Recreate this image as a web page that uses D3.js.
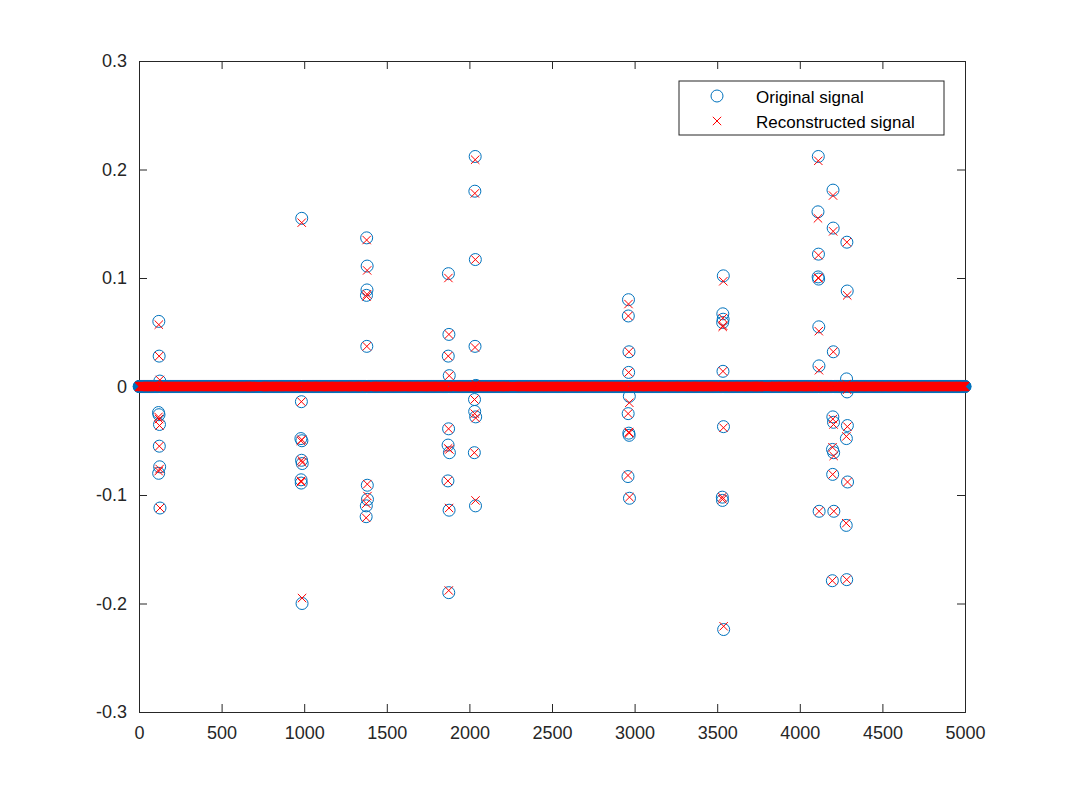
<!DOCTYPE html>
<html><head><meta charset="utf-8">
<script src="https://cdn.jsdelivr.net/npm/d3@7/dist/d3.min.js"></script>
<style>body{margin:0;background:#fff}text{font-family:"Liberation Sans",Arial,sans-serif}</style>
</head><body><svg id="c" width="1067" height="800"></svg>
<script>
const N = 5000;
const xTicks = [0,500,1000,1500,2000,2500,3000,3500,4000,4500,5000];
const yTicks = [-0.3,-0.2,-0.1,0,0.1,0.2,0.3];
// nonzero entries: [index, original, reconstructed]
const spikes = [
 [120,0.060,0.057],[122,0.028,0.028],[126,0.005,0.006],[118,-0.024,-0.028],[121,-0.026,-0.030],[124,-0.035,-0.036],[123,-0.055,-0.055],[125,-0.074,-0.076],[119,-0.080,-0.078],[127,-0.112,-0.112],
 [985,0.155,0.151],[983,-0.014,-0.014],[980,-0.048,-0.050],[986,-0.050,-0.049],[984,-0.068,-0.068],[988,-0.071,-0.070],[981,-0.086,-0.087],[982,-0.089,-0.088],[987,-0.200,-0.195],
 [1378,0.137,0.135],[1381,0.111,0.107],[1380,0.089,0.085],[1377,0.084,0.083],[1379,0.037,0.037],[1382,-0.091,-0.090],[1383,-0.104,-0.101],[1376,-0.110,-0.108],[1375,-0.120,-0.121],
 [1873,0.104,0.100],[1876,0.048,0.048],[1872,0.028,0.028],[1878,0.010,0.010],[1874,-0.039,-0.039],[1871,-0.054,-0.057],[1879,-0.061,-0.058],[1870,-0.087,-0.087],[1877,-0.114,-0.112],[1875,-0.190,-0.188],
 [2035,0.212,0.209],[2033,0.180,0.178],[2036,0.117,0.117],[2034,0.037,0.036],[2039,0.001,0.002],[2031,-0.012,-0.012],[2032,-0.023,-0.025],[2038,-0.028,-0.029],[2030,-0.061,-0.061],[2037,-0.110,-0.105],
 [2963,0.080,0.076],[2962,0.065,0.065],[2966,0.032,0.032],[2964,0.013,0.013],[2968,-0.009,-0.015],[2961,-0.025,-0.025],[2965,-0.043,-0.042],[2967,-0.045,-0.043],[2960,-0.083,-0.082],[2969,-0.103,-0.102],
 [3537,0.102,0.097],[3534,0.067,0.063],[3536,0.062,0.056],[3533,0.059,0.055],[3535,0.014,0.014],[3538,-0.037,-0.038],[3531,-0.102,-0.102],[3532,-0.105,-0.104],[3539,-0.224,-0.221],
 [4112,0.212,0.208],[4110,0.161,0.155],[4113,0.122,0.121],[4111,0.101,0.100],[4114,0.099,0.100],[4115,0.055,0.051],[4116,0.019,0.015],[4117,-0.115,-0.115],
 [4201,0.181,0.176],[4202,0.146,0.143],[4203,0.032,0.032],[4200,-0.028,-0.030],[4204,-0.033,-0.035],[4198,-0.058,-0.056],[4205,-0.061,-0.064],[4199,-0.081,-0.081],[4206,-0.115,-0.115],[4197,-0.179,-0.179],
 [4285,0.133,0.133],[4287,0.088,0.084],[4283,0.007,0.002],[4286,-0.005,-0.003],[4288,-0.036,-0.037],[4282,-0.048,-0.046],[4289,-0.088,-0.088],[4281,-0.128,-0.126],[4284,-0.178,-0.178]
];
const spikeIdx = new Set(spikes.map(d=>d[0]));
const pts = d3.range(1,N+1).filter(i=>!spikeIdx.has(i)).map(i=>[i,0,0]).concat(spikes);

const svg = d3.select("#c");
const L=139,R=965,T=61,B=712;
const x = d3.scaleLinear().domain([0,N]).range([L,R]);
const y = d3.scaleLinear().domain([-0.3,0.3]).range([B,T]);
const ink="#262626";
svg.append("g").attr("transform",`translate(0,${B})`).call(d3.axisBottom(x).tickValues(xTicks).tickFormat(d3.format("d")).tickSize(-8).tickPadding(14));
svg.append("g").attr("transform",`translate(0,${T})`).call(d3.axisTop(x).tickValues(xTicks).tickFormat("").tickSize(-8));
svg.append("g").attr("transform",`translate(${L},0)`).call(d3.axisLeft(y).tickValues(yTicks).tickFormat(d=>d===0?"0":d.toFixed(1)).tickSize(-8).tickPadding(12));
svg.append("g").attr("transform",`translate(${R},0)`).call(d3.axisRight(y).tickValues(yTicks).tickFormat("").tickSize(-8));
svg.selectAll(".domain").attr("stroke",ink);
svg.selectAll(".tick line").attr("stroke",ink);
svg.selectAll(".tick text").attr("font-size",18).attr("fill",ink);

svg.append("g").selectAll("circle").data(pts).join("circle")
 .attr("cx",d=>x(d[0])).attr("cy",d=>y(d[1])).attr("r",6)
 .attr("fill","none").attr("stroke","#0072BD").attr("stroke-width",1);
const s=4.2;
svg.append("g").selectAll("path").data(pts).join("path")
 .attr("d",d=>{const cx=x(d[0]),cy=y(d[2]);return `M${cx-s},${cy-s}L${cx+s},${cy+s}M${cx-s},${cy+s}L${cx+s},${cy-s}`;})
 .attr("stroke","#FF0000").attr("stroke-width",1);

const lg = svg.append("g");
lg.append("rect").attr("x",679).attr("y",81).attr("width",265).attr("height",54).attr("fill","#fff").attr("stroke",ink);
lg.append("circle").attr("cx",717).attr("cy",96).attr("r",6).attr("fill","none").attr("stroke","#0072BD");
lg.append("path").attr("d",`M${717-s},${121-s}L${717+s},${121+s}M${717-s},${121+s}L${717+s},${121-s}`).attr("stroke","#FF0000");
lg.append("text").attr("x",756).attr("y",103).attr("font-size",17).attr("fill","#000").text("Original signal");
lg.append("text").attr("x",756).attr("y",128).attr("font-size",17).attr("fill","#000").text("Reconstructed signal");
</script></body></html>
